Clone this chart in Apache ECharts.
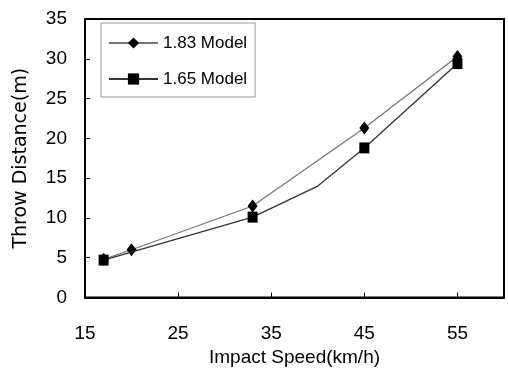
<!DOCTYPE html>
<html>
<head>
<meta charset="utf-8">
<script src="https://cdn.jsdelivr.net/npm/echarts@6/dist/echarts.min.js"></script>
<style>html,body{margin:0;padding:0;background:#fff;}#c{width:508px;height:374px;}</style>
</head>
<body>
<div id="c"></div>
<script>
var seriesNames = ['1.83 Model', '1.65 Model'];
var speed183 = [17, 20, 33, 45, 55];
var dist183 = [4.8, 6.0, 11.5, 21.3, 30.3];
var speed165 = [17, 33, 40, 45, 55];
var dist165 = [4.7, 10.1, 14.0, 18.8, 29.4];
var marked165 = [true, true, false, true, true];
var xTicks = [15, 25, 35, 45, 55];
var yTicks = [0, 5, 10, 15, 20, 25, 30, 35];

var FONT = "'Liberation Sans', Arial, sans-serif";
function pairs(xs, ys, marks) {
  return xs.map(function (x, i) {
    var p = { value: [x, ys[i]] };
    if (marks && !marks[i]) { p.symbol = 'none'; }
    return p;
  });
}
var chart = echarts.init(document.getElementById('c'), null, { renderer: 'canvas' });
chart.setOption({
  animation: false,
  backgroundColor: '#fff',
  grid: { left: 85, right: 4, top: 19, bottom: 76.5, show: true, borderColor: '#000', borderWidth: 2, backgroundColor: 'transparent' },
  legend: {
    orient: 'vertical', left: 101, top: 23,
    padding: [10, 8, 8, 7], itemGap: 16,
    itemWidth: 49, itemHeight: 14,
    borderColor: '#999', borderWidth: 1,
    textStyle: { fontFamily: FONT, fontSize: 17, color: '#000', lineHeight: 20 },
    data: seriesNames
  },
  xAxis: {
    type: 'value', min: xTicks[0], max: 60, interval: 10,
    name: 'Impact Speed(km/h)', nameLocation: 'middle', nameGap: 50,
    nameTextStyle: { fontFamily: FONT, fontSize: 19, color: '#000' },
    axisLine: { show: true, lineStyle: { color: '#000', width: 2 } },
    axisTick: { show: true, inside: true, length: 5, lineStyle: { color: '#000' } },
    axisLabel: { fontFamily: FONT, fontSize: 19, color: '#000', margin: 27, showMaxLabel: false,
      formatter: function (v) { return xTicks.indexOf(v) >= 0 ? String(v) : ''; } },
    splitLine: { show: false }
  },
  yAxis: {
    type: 'value', min: yTicks[0], max: yTicks[yTicks.length - 1], interval: 5,
    name: 'Throw Distance(m)', nameLocation: 'middle', nameGap: 54, nameRotate: 90,
    nameTextStyle: { fontFamily: "'DejaVu Sans', sans-serif", fontSize: 19, color: '#000' },
    axisLine: { show: true, lineStyle: { color: '#000', width: 2 } },
    axisTick: { show: true, inside: true, length: 5, lineStyle: { color: '#000' } },
    axisLabel: { fontFamily: FONT, fontSize: 19, color: '#000', margin: 18 },
    splitLine: { show: false }
  },
  series: [
    {
      name: seriesNames[0], type: 'line', data: pairs(speed183, dist183),
      symbol: 'diamond', symbolSize: [10, 13],
      lineStyle: { color: '#777', width: 1.3 },
      itemStyle: { color: '#000' }, z: 3
    },
    {
      name: seriesNames[1], type: 'line', data: pairs(speed165, dist165, marked165),
      symbol: 'rect', symbolSize: [10, 11],
      lineStyle: { color: '#333', width: 1.3 },
      itemStyle: { color: '#000' }, z: 4
    }
  ]
});
</script>
</body>
</html>
